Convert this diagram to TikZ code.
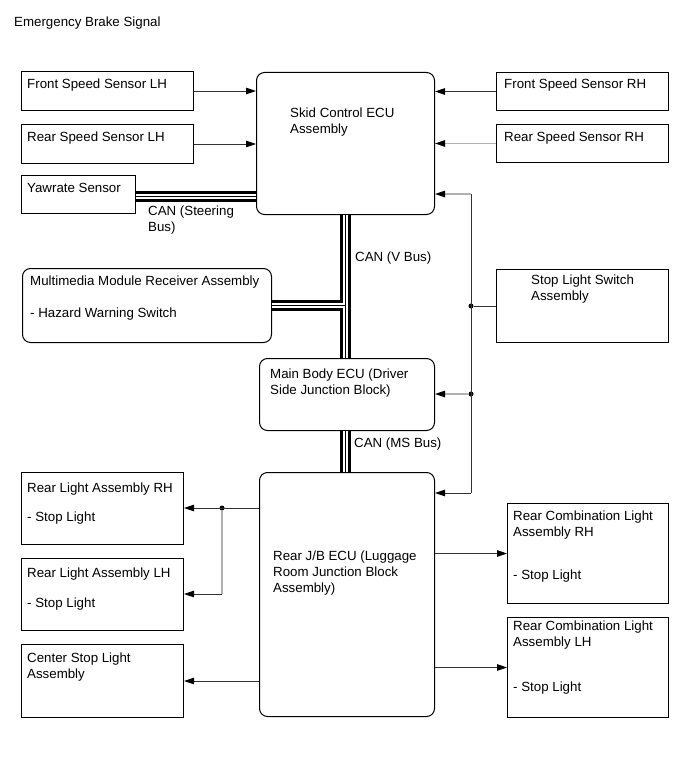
\documentclass[tikz,border=0pt]{standalone}
\usepackage{fontspec}
\setmainfont{Liberation Sans}
\usetikzlibrary{arrows.meta}
\begin{document}
\begin{tikzpicture}[x=1pt,y=-1pt,
  box/.style={draw=black, line width=1pt, anchor=north west, inner sep=0pt},
  rbox/.style={box, rounded corners=8pt},
  txt/.style={anchor=base west, inner sep=0pt, align=left, font=\fontsize{13.3}{16}\selectfont},
  conn/.style={draw=black!80, line width=0.9pt},
  gconn/.style={draw=black!30, line width=1.2pt},
  arr/.style={-{Triangle[length=10pt,width=6.5pt,color=black]}},
  canout/.style={line width=11pt, draw=black},
  canmid/.style={line width=5pt, draw=white},
  cancore/.style={line width=0.9pt, draw=black},
  dot/.style={circle, fill=black, inner sep=0pt, minimum size=5pt}
]
\useasboundingbox[fill=white] (0,0) rectangle (689,757);

% (multi-line text nodes are placed at the baseline of their last line)
\node[txt] (title) at (14,26.5) {Emergency Brake Signal};

% left sensors
\node[box, minimum width=172pt, minimum height=39pt] (fsl) at (21,71) {};
\node[txt] (fslt) at (27,89) {Front Speed Sensor LH};
\node[box, minimum width=172pt, minimum height=39pt] (rsl) at (21,124) {};
\node[txt] (rslt) at (27,141) {Rear Speed Sensor LH};
\node[box, minimum width=114pt, minimum height=38pt] (yaw) at (21,175) {};
\node[txt] (yawt) at (27,192) {Yawrate Sensor};
\node[txt] (canst) at (148,231.5) {CAN (Steering\\Bus)};

% skid control ECU
\node[rbox, minimum width=178pt, minimum height=142pt] (skid) at (256,72) {};
\node[txt] (skidt) at (290,133) {Skid Control ECU\\Assembly};

% right sensors
\node[box, minimum width=172pt, minimum height=38pt] (fsr) at (496,72) {};
\node[txt] (fsrt) at (504,89) {Front Speed Sensor RH};
\node[box, minimum width=172pt, minimum height=38pt] (rsr) at (496,124) {};
\node[txt] (rsrt) at (504,141) {Rear Speed Sensor RH};

% multimedia
\node[rbox, minimum width=249pt, minimum height=74pt] (mm) at (22,268) {};
\node[txt] (mmt) at (30,317.5) {Multimedia Module Receiver Assembly\\[16pt]- Hazard Warning Switch};
\node[txt] (canvt) at (355,261.5) {CAN (V Bus)};

% stop light switch
\node[box, minimum width=172pt, minimum height=73pt] (sls) at (496,269) {};
\node[txt] (slst) at (531,300) {Stop Light Switch\\Assembly};

% main body ECU
\node[rbox, minimum width=175pt, minimum height=72pt] (mb) at (259,358) {};
\node[txt] (mbt) at (270,394) {Main Body ECU (Driver\\Side Junction Block)};
\node[txt] (canmt) at (354,447) {CAN (MS Bus)};

% rear J/B ECU
\node[rbox, minimum width=175pt, minimum height=244pt] (rjb) at (259,472) {};
\node[txt] (rjbt) at (273,592) {Rear J/B ECU (Luggage\\Room Junction Block\\Assembly)};

% rear lights left
\node[box, minimum width=162pt, minimum height=72pt] (rlr) at (21,472) {};
\node[txt] (rlrt) at (27,521.7) {Rear Light Assembly RH\\[13.7pt]- Stop Light};
\node[box, minimum width=162pt, minimum height=72pt] (rll) at (21,558) {};
\node[txt] (rllt) at (27,607) {Rear Light Assembly LH\\[13.5pt]- Stop Light};
\node[box, minimum width=162pt, minimum height=73pt] (csl) at (21,644) {};
\node[txt] (cslt) at (27,678.5) {Center Stop Light\\Assembly};

% rear combination lights right
\node[box, minimum width=161pt, minimum height=100pt] (rcr) at (507,503) {};
\node[txt] (rcrt) at (513,579) {Rear Combination Light\\Assembly RH\\[26.5pt]- Stop Light};
\node[box, minimum width=161pt, minimum height=100pt] (rcl) at (507,617) {};
\node[txt] (rclt) at (513,691.5) {Rear Combination Light\\Assembly LH\\[29pt]- Stop Light};

% sensor arrows
\draw[conn,arr] (fsl.east) -- (fsl.east -| skid.west);
\draw[conn,arr] (rsl.east) -- (rsl.east -| skid.west);
\draw[conn,arr] (fsr.west) -- (fsr.west -| skid.east);
\draw[gconn,arr] (rsr.west) -- (rsr.west -| skid.east);

% CAN buses
\coordinate (vb) at (345,0);
\coordinate (ys) at ([yshift=-1.5pt]yaw.east);
\foreach \s in {canout,canmid,cancore}{
  \draw[\s] (ys) -- (ys -| skid.west);
  \draw[\s] (vb |- skid.south) -- (vb |- mb.north);
  \draw[\s] (mm.east) -- (mm.east -| vb);
  \draw[\s] (vb |- mb.south) -- (vb |- rjb.north);
}

% stop light switch network
\coordinate (s1) at (471,194);
\coordinate (s4) at (471,493);
\node[dot] (d1) at (471,306) {};
\node[dot] (d2) at (471,394) {};
\draw[conn] (s1) -- (s4);
\draw[gconn,arr] (s1) -- (s1 -| skid.east);
\draw[gconn,arr] (d2) -- (d2 -| mb.east);
\draw[conn,arr] (s4) -- (s4 -| rjb.east);
\draw[conn] (d1) -- (d1 -| sls.west);

% rear J/B outputs left
\node[dot] (d3) at (222,508) {};
\coordinate (r2) at (222,594);
\draw[conn,arr] (d3 -| rjb.west) -- (d3 -| rlr.east);
\draw[gconn] (d3) -- (r2);
\draw[conn,arr] (r2) -- (r2 -| rll.east);
\draw[conn,arr] (csl.east -| rjb.west) -- (csl.east);

% rear J/B outputs right
\draw[conn,arr] (rcr.west -| rjb.east) -- (rcr.west);
\draw[conn,arr] (rcl.west -| rjb.east) -- (rcl.west);
\end{tikzpicture}
\end{document}
